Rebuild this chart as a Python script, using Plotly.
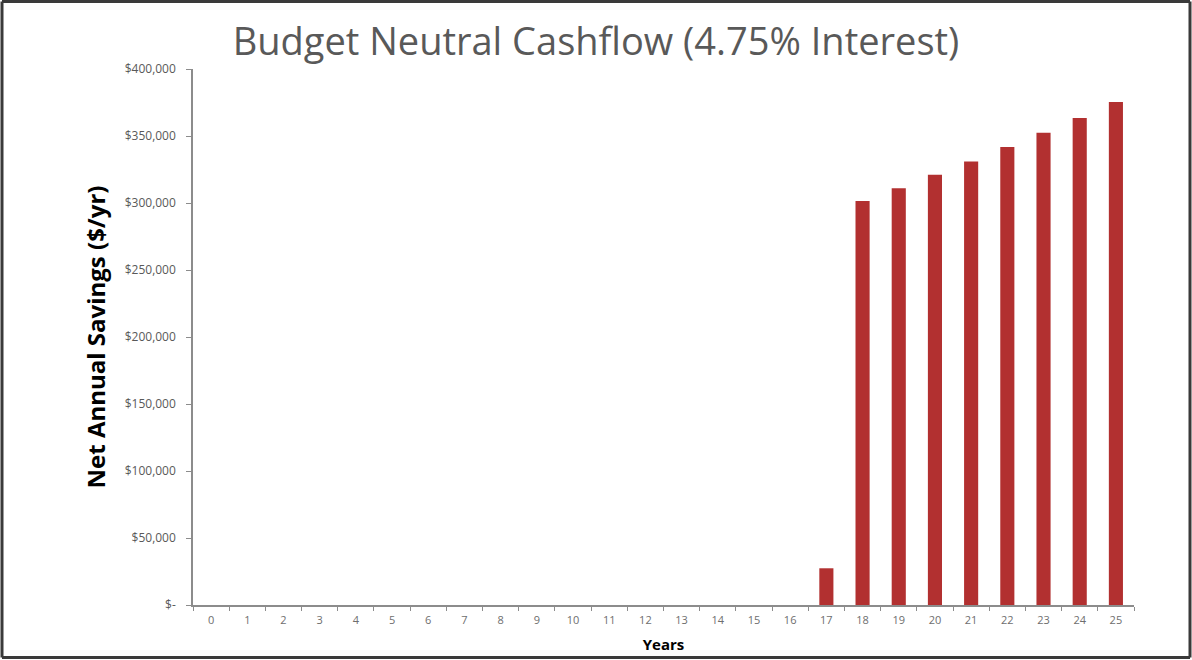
import plotly.graph_objects as go

# Net annual savings by year
years = [str(y) for y in range(26)]
savings = [0] * 17 + [27400, 301500, 311000, 321000, 331000, 341800, 352500, 363400, 375400]

y_tick_values = [0, 50000, 100000, 150000, 200000, 250000, 300000, 350000, 400000]
y_tick_labels = ["$-", "$50,000", "$100,000", "$150,000", "$200,000",
                 "$250,000", "$300,000", "$350,000", "$400,000"]

W, H = 1192, 660
ML, MR, MT, MB = 193, 58, 69, 55
pw, ph = W - ML - MR, H - MT - MB

fig = go.Figure(go.Bar(
    x=years, y=savings,
    marker=dict(color="#B23030", line=dict(width=0)),
    width=0.39,
))

axis_col = "#8C8C8C"
fig.update_layout(
    width=W, height=H,
    margin=dict(l=ML, r=MR, t=MT, b=MB, autoexpand=False),
    paper_bgcolor="white", plot_bgcolor="white",
    showlegend=False,
    title=dict(text="Budget Neutral Cashflow (4.75% Interest)",
               x=0.5, xanchor="center", y=1 - 42 / H, yanchor="middle",
               font=dict(family="Open Sans", size=38, color="#595959")),
    xaxis=dict(
        type="category", tickson="boundaries", ticks="outside", ticklen=4,
        tickcolor=axis_col, showline=True, linecolor=axis_col, linewidth=1.5,
        showgrid=False, ticklabelstandoff=4,
        tickfont=dict(family="Open Sans", size=11, color="#6E6E6E"),
        title=dict(text="<b>Years</b>", standoff=14,
                   font=dict(family="Open Sans", size=15, color="black")),
    ),
    yaxis=dict(
        range=[0, 400000], tickvals=y_tick_values, ticktext=y_tick_labels,
        ticks="outside", ticklen=5, tickcolor=axis_col,
        showline=True, linecolor=axis_col, linewidth=1.5,
        showgrid=False, zeroline=False, ticklabelstandoff=8,
        tickfont=dict(family="Open Sans", size=12, color="#595959"),
        title=dict(text="<b>Net Annual Savings ($/yr)</b>", standoff=12,
                   font=dict(family="Open Sans", size=24, color="black")),
    ),
)

# Dark frame around the whole slide, one edge at a time
def px_x(p):
    return (p - ML) / pw

def px_y(p):
    return (H - MB - p) / ph

frame = dict(color="#3A3A3A", width=3)
edges = [
    (2, 1.5, W - 2, 1.5),
    (W - 2, 1.5, W - 2, H - 2.5),
    (2, H - 2.5, W - 2, H - 2.5),
    (2, 1.5, 2, H - 2.5),
]
for x0, y0, x1, y1 in edges:
    fig.add_shape(type="line", xref="paper", yref="paper",
                  x0=px_x(x0), y0=px_y(y0), x1=px_x(x1), y1=px_y(y1),
                  line=frame, layer="above")

fig.write_html("out.html")
